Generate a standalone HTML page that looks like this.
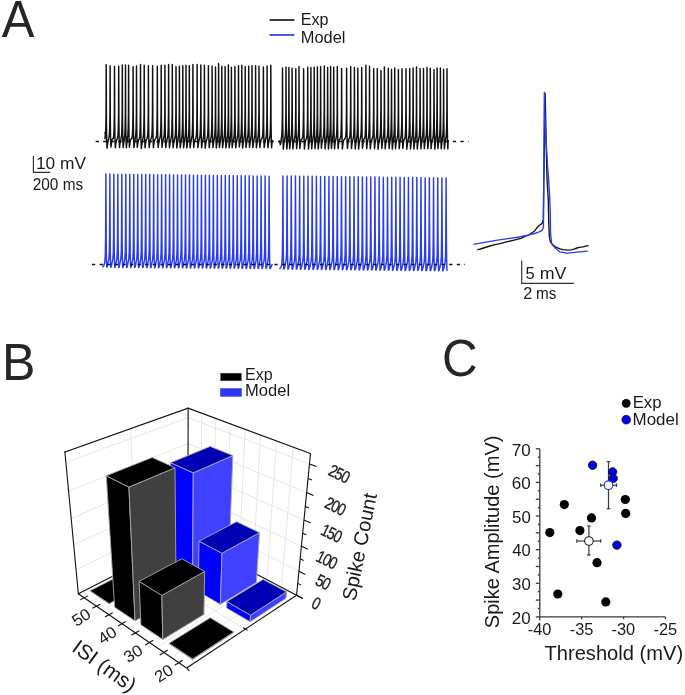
<!DOCTYPE html>
<html><head><meta charset="utf-8"><style>
html,body{margin:0;padding:0;background:#fff;}
svg{display:block;}
text{filter:grayscale(1);}
</style></head><body>
<svg width="685" height="695" viewBox="0 0 685 695">
<rect width="685" height="695" fill="#fff"/>
<text transform="translate(1.65,36.80) scale(0.9527,1)" font-size="51.37" fill="#262626" font-family="Liberation Sans, sans-serif">A</text>
<line x1="269.5" y1="20" x2="294.5" y2="20" stroke="#2a2a2a" stroke-width="1.8"/>
<line x1="269.5" y1="34.95" x2="294.5" y2="34.95" stroke="#3346ee" stroke-width="1.8"/>
<text transform="translate(300.78,24.90) scale(0.9737,1)" font-size="16.57" fill="#1a1a1a" font-family="Liberation Sans, sans-serif">Exp</text>
<text transform="translate(300.75,42.50) scale(1.0092,1)" font-size="16.28" fill="#1a1a1a" font-family="Liberation Sans, sans-serif">Model</text>
<g fill="none" stroke="#111" stroke-width="1.45" stroke-linejoin="round">
<path d="M105,131.8 L105.3,134.8 L104.95,138.79 L105.45,135.87 L105.82,128 L106.08,112 L106.2,64.6 L106.42,122 L106.7,140 L107.02,148.19 L107.6,143.57 L108.15,140.91 L108.85,137.69 L109.35,135.04 L109.72,128 L109.98,112 L110.1,65.7 L110.32,122 L110.6,140 L110.92,147.09 L111.5,142.74 L112.05,139.53 L113.25,138.4 L113.75,135.58 L114.12,128 L114.38,112 L114.5,66.2 L114.72,122 L115,140 L115.32,147.8 L115.9,143.28 L116.45,140.43 L117.45,138.16 L117.95,135.4 L118.32,128 L118.58,112 L118.7,66.2 L118.92,122 L119.2,140 L119.52,147.56 L120.1,143.1 L120.65,140.13 L121.05,138.19 L121.55,135.42 L121.92,128 L122.18,112 L122.3,64.9 L122.52,122 L122.8,140 L123.12,147.59 L123.7,143.12 L124.25,140.16 L124.25,138.25 L124.75,135.46 L125.12,128 L125.38,112 L125.5,64.9 L125.72,122 L126,140 L126.32,147.65 L126.9,143.16 L127.45,140.24 L127.35,137.82 L127.85,135.14 L128.22,128 L128.48,112 L128.6,65.3 L128.82,122 L129.1,140 L129.42,147.22 L130,142.84 L130.55,139.69 L131.85,138.24 L132.35,135.46 L132.72,128 L132.98,112 L133.1,66.6 L133.32,122 L133.6,140 L133.92,147.64 L134.5,143.16 L135.05,140.23 L135.25,138.09 L135.75,135.34 L136.12,128 L136.38,112 L136.5,66 L136.72,122 L137,140 L137.32,147.49 L137.9,143.04 L138.45,140.04 L139.25,139.1 L139.75,136.1 L140.12,128 L140.38,112 L140.5,64.4 L140.72,122 L141,140 L141.32,148.5 L141.9,143.8 L142.45,141.3 L142.95,138.35 L143.45,135.54 L143.82,128 L144.08,112 L144.2,65.3 L144.42,122 L144.7,140 L145.02,147.75 L145.6,143.24 L146.15,140.37 L147.15,138.22 L147.65,135.44 L148.02,128 L148.28,112 L148.4,65.7 L148.62,122 L148.9,140 L149.22,147.62 L149.8,143.14 L150.35,140.19 L151.35,138.23 L151.85,135.45 L152.22,128 L152.48,112 L152.6,65.7 L152.82,122 L153.1,140 L153.42,147.63 L154,143.15 L154.55,140.22 L156.05,138.14 L156.55,135.38 L156.92,128 L157.18,112 L157.3,66.2 L157.52,122 L157.8,140 L158.12,147.54 L158.7,143.08 L159.25,140.1 L159.95,138.05 L160.45,135.31 L160.82,128 L161.08,112 L161.2,65.3 L161.42,122 L161.7,140 L162.02,147.45 L162.6,143.01 L163.15,139.98 L163.65,138.21 L164.15,135.43 L164.52,128 L164.78,112 L164.9,65.3 L165.12,122 L165.4,140 L165.72,147.61 L166.3,143.13 L166.85,140.18 L167.35,138.42 L167.85,135.59 L168.22,128 L168.48,112 L168.6,64.4 L168.82,122 L169.1,140 L169.42,147.82 L170,143.29 L170.55,140.44 L171.05,138.24 L171.55,135.46 L171.92,128 L172.18,112 L172.3,64.6 L172.52,122 L172.8,140 L173.12,147.64 L173.7,143.16 L174.25,140.23 L174.75,138.53 L175.25,135.67 L175.62,128 L175.88,112 L176,66.6 L176.22,122 L176.5,140 L176.82,147.93 L177.4,143.37 L177.95,140.59 L178.15,138.25 L178.65,135.46 L179.02,128 L179.28,112 L179.4,66.2 L179.62,122 L179.9,140 L180.22,147.65 L180.8,143.16 L181.35,140.24 L181.55,138.31 L182.05,135.5 L182.42,128 L182.68,112 L182.8,65.7 L183.02,122 L183.3,140 L183.62,147.71 L184.2,143.2 L184.75,140.31 L184.75,138.67 L185.25,135.78 L185.62,128 L185.88,112 L186,65.3 L186.22,122 L186.5,140 L186.82,148.07 L187.4,143.48 L187.95,140.76 L188.05,138.43 L188.55,135.6 L188.92,128 L189.18,112 L189.3,65.7 L189.52,122 L189.8,140 L190.12,147.83 L190.7,143.3 L191.25,140.46 L191.65,138.18 L192.15,135.41 L192.52,128 L192.78,112 L192.9,64.4 L193.12,122 L193.4,140 L193.72,147.58 L194.3,143.11 L194.85,140.15 L195.85,138.26 L196.35,135.47 L196.72,128 L196.98,112 L197.1,64.4 L197.32,122 L197.6,140 L197.92,147.66 L198.5,143.17 L199.05,140.25 L199.55,138.43 L200.05,135.6 L200.42,128 L200.68,112 L200.8,64.9 L201.02,122 L201.3,140 L201.62,147.83 L202.2,143.3 L202.75,140.46 L203.15,138.76 L203.65,135.85 L204.02,128 L204.28,112 L204.4,65.3 L204.62,122 L204.9,140 L205.22,148.16 L205.8,143.55 L206.35,140.88 L207.15,138.24 L207.65,135.45 L208.02,128 L208.28,112 L208.4,65.7 L208.62,122 L208.9,140 L209.22,147.64 L209.8,143.15 L210.35,140.22 L210.85,138.24 L211.35,135.46 L211.72,128 L211.98,112 L212.1,66 L212.32,122 L212.6,140 L212.92,147.64 L213.5,143.16 L214.05,140.23 L214.25,138.54 L214.75,135.68 L215.12,128 L215.38,112 L215.5,67 L215.72,122 L216,140 L216.32,147.94 L216.9,143.38 L217.45,140.6 L217.35,138.09 L217.85,135.34 L218.22,128 L218.48,112 L218.6,63.6 L218.82,122 L219.1,140 L219.42,147.49 L220,143.04 L220.55,140.03 L220.55,138.23 L221.05,135.45 L221.42,128 L221.68,112 L221.8,66.2 L222.02,122 L222.3,140 L222.62,147.63 L223.2,143.15 L223.75,140.21 L223.85,138.51 L224.35,135.66 L224.72,128 L224.98,112 L225.1,66.6 L225.32,122 L225.6,140 L225.92,147.91 L226.5,143.36 L227.05,140.56 L227.15,138.44 L227.65,135.6 L228.02,128 L228.28,112 L228.4,64.9 L228.62,122 L228.9,140 L229.22,147.84 L229.8,143.3 L230.35,140.47 L230.15,138.32 L230.65,135.52 L231.02,128 L231.28,112 L231.4,67.3 L231.62,122 L231.9,140 L232.22,147.72 L232.8,143.22 L233.35,140.33 L233.65,138.46 L234.15,135.62 L234.52,128 L234.78,112 L234.9,66.6 L235.12,122 L235.4,140 L235.72,147.86 L236.3,143.32 L236.85,140.5 L237.25,137.62 L237.75,134.99 L238.12,128 L238.38,112 L238.5,65.7 L238.72,122 L239,140 L239.32,147.02 L239.9,142.69 L240.45,139.45 L240.55,138.55 L241.05,135.68 L241.42,128 L241.68,112 L241.8,65.3 L242.02,122 L242.3,140 L242.62,147.95 L243.2,143.38 L243.75,140.61 L243.95,138.07 L244.45,135.33 L244.82,128 L245.08,112 L245.2,66.6 L245.42,122 L245.7,140 L246.02,147.47 L246.6,143.03 L247.15,140.01 L247.45,137.9 L247.95,135.2 L248.32,128 L248.58,112 L248.7,66.2 L248.92,122 L249.2,140 L249.52,147.3 L250.1,142.9 L250.65,139.8 L250.75,138.37 L251.25,135.55 L251.62,128 L251.88,112 L252,65.7 L252.22,122 L252.5,140 L252.82,147.77 L253.4,143.25 L253.95,140.38 L254.35,138.47 L254.85,135.63 L255.22,128 L255.48,112 L255.6,65.7 L255.82,122 L256.1,140 L256.42,147.87 L257,143.33 L257.55,140.51 L257.75,138.19 L258.25,135.42 L258.62,128 L258.88,112 L259,66.2 L259.22,122 L259.5,140 L259.82,147.59 L260.4,143.12 L260.95,140.17 L262.15,138.04 L262.65,135.31 L263.02,128 L263.28,112 L263.4,67 L263.62,122 L263.9,140 L264.22,147.44 L264.8,143.01 L265.35,139.98 L265.85,138.31 L266.35,135.5 L266.72,128 L266.98,112 L267.1,66 L267.32,122 L267.6,140 L267.92,147.71 L268.5,143.2 L269.05,140.31 L269.55,138.29 L270.05,135.49 L270.42,128 L270.68,112 L270.8,65.3 L271.02,122 L271.3,140 L271.62,147.69 L272.2,140.47 L272.8,140"/>
<path d="M278.3,141.5 L279.7,141.3 L280.3,144.8 L280.9,142.5 L281.25,138.64 L281.75,135.75 L282.12,128 L282.38,112 L282.5,67.9 L282.72,122 L283,140 L283.32,149.14 L283.9,143.45 L284.45,140.72 L284.75,138.48 L285.25,135.63 L285.62,128 L285.88,112 L286,67 L286.22,122 L286.5,140 L286.82,148.98 L287.4,143.33 L287.95,140.52 L287.65,138.35 L288.15,135.53 L288.52,128 L288.78,112 L288.9,67.5 L289.12,122 L289.4,140 L289.72,148.85 L290.3,143.23 L290.85,140.36 L290.85,138.57 L291.35,135.7 L291.72,128 L291.98,112 L292.1,68.3 L292.32,122 L292.6,140 L292.92,149.07 L293.5,143.4 L294.05,140.63 L294.55,138.25 L295.05,135.46 L295.42,128 L295.68,112 L295.8,68.8 L296.02,122 L296.3,140 L296.62,148.75 L297.2,143.16 L297.75,140.24 L297.75,138.08 L298.25,135.33 L298.62,128 L298.88,112 L299,66.6 L299.22,122 L299.5,140 L299.82,148.58 L300.4,143.03 L300.95,140.02 L302.35,138.44 L302.85,135.61 L303.22,128 L303.48,112 L303.6,68.8 L303.82,122 L304.1,140 L304.42,148.94 L305,143.31 L305.55,140.48 L306.45,138.44 L306.95,135.6 L307.32,128 L307.58,112 L307.7,67.3 L307.92,122 L308.2,140 L308.52,148.94 L309.1,143.3 L309.65,140.47 L309.65,138.25 L310.15,135.46 L310.52,128 L310.78,112 L310.9,67.5 L311.12,122 L311.4,140 L311.72,148.75 L312.3,143.16 L312.85,140.24 L312.95,138.11 L313.45,135.36 L313.82,128 L314.08,112 L314.2,67.3 L314.42,122 L314.7,140 L315.02,148.61 L315.6,143.06 L316.15,140.07 L316.15,138.35 L316.65,135.54 L317.02,128 L317.28,112 L317.4,67 L317.62,122 L317.9,140 L318.22,148.85 L318.8,143.24 L319.35,140.37 L319.35,137.7 L319.85,135.05 L320.22,128 L320.48,112 L320.6,66.6 L320.82,122 L321.1,140 L321.42,148.2 L322,142.75 L322.55,139.55 L323.05,138.47 L323.55,135.62 L323.92,128 L324.18,112 L324.3,66 L324.52,122 L324.8,140 L325.12,148.97 L325.7,143.32 L326.25,140.51 L326.35,138.42 L326.85,135.59 L327.22,128 L327.48,112 L327.6,67.5 L327.82,122 L328.1,140 L328.42,148.92 L329,143.29 L329.55,140.45 L329.35,137.91 L329.85,135.21 L330.22,128 L330.48,112 L330.6,66.6 L330.82,122 L331.1,140 L331.42,148.41 L332,142.91 L332.55,139.81 L332.45,138.31 L332.95,135.51 L333.32,128 L333.58,112 L333.7,67.3 L333.92,122 L334.2,140 L334.52,148.81 L335.1,143.21 L335.65,140.32 L336.05,138.07 L336.55,135.33 L336.92,128 L337.18,112 L337.3,66.6 L337.52,122 L337.8,140 L338.12,148.57 L338.7,143.03 L339.25,140.01 L340.35,138.48 L340.85,135.64 L341.22,128 L341.48,112 L341.6,68.6 L341.82,122 L342.1,140 L342.42,148.98 L343,143.34 L343.55,140.53 L345.35,137.81 L345.85,135.13 L346.22,128 L346.48,112 L346.6,68.3 L346.82,122 L347.1,140 L347.42,148.31 L348,142.83 L348.55,139.69 L349.45,138.08 L349.95,135.34 L350.32,128 L350.58,112 L350.7,66.6 L350.92,122 L351.2,140 L351.52,148.58 L352.1,143.04 L352.65,140.03 L353.15,138.47 L353.65,135.63 L354.02,128 L354.28,112 L354.4,67.5 L354.62,122 L354.9,140 L355.22,148.97 L355.8,143.33 L356.35,140.51 L356.55,138.58 L357.05,135.71 L357.42,128 L357.68,112 L357.8,68.3 L358.02,122 L358.3,140 L358.62,149.08 L359.2,143.41 L359.75,140.65 L360.45,137.78 L360.95,135.11 L361.32,128 L361.58,112 L361.7,67.5 L361.92,122 L362.2,140 L362.52,148.28 L363.1,142.81 L363.65,139.65 L364.65,138.18 L365.15,135.41 L365.52,128 L365.78,112 L365.9,65.3 L366.12,122 L366.4,140 L366.72,148.68 L367.3,143.11 L367.85,140.15 L368.25,138.38 L368.75,135.56 L369.12,128 L369.38,112 L369.5,66.2 L369.72,122 L370,140 L370.32,148.88 L370.9,143.26 L371.45,140.4 L372.45,138.15 L372.95,135.39 L373.32,128 L373.58,112 L373.7,68.6 L373.92,122 L374.2,140 L374.52,148.65 L375.1,143.09 L375.65,140.12 L376.05,138.68 L376.55,135.79 L376.92,128 L377.18,112 L377.3,68.6 L377.52,122 L377.8,140 L378.12,149.18 L378.7,143.49 L379.25,140.78 L379.75,138.01 L380.25,135.29 L380.62,128 L380.88,112 L381,70.6 L381.22,122 L381.5,140 L381.82,148.51 L382.4,142.99 L382.95,139.94 L383.15,138.39 L383.65,135.56 L384.02,128 L384.28,112 L384.4,67 L384.62,122 L384.9,140 L385.22,148.89 L385.8,143.26 L386.35,140.41 L387.05,138.05 L387.55,135.31 L387.92,128 L388.18,112 L388.3,68.3 L388.52,122 L388.8,140 L389.12,148.55 L389.7,143.01 L390.25,139.99 L390.25,138.64 L390.75,135.75 L391.12,128 L391.38,112 L391.5,69.2 L391.72,122 L392,140 L392.32,149.14 L392.9,143.45 L393.45,140.72 L393.45,138.29 L393.95,135.5 L394.32,128 L394.58,112 L394.7,67.9 L394.92,122 L395.2,140 L395.52,148.79 L396.1,143.2 L396.65,140.29 L397.15,138.21 L397.65,135.43 L398.02,128 L398.28,112 L398.4,69.6 L398.62,122 L398.9,140 L399.22,148.71 L399.8,143.13 L400.35,140.19 L400.75,137.89 L401.25,135.19 L401.62,128 L401.88,112 L402,68.8 L402.22,122 L402.5,140 L402.82,148.39 L403.4,142.89 L403.95,139.78 L404.75,138.7 L405.25,135.8 L405.62,128 L405.88,112 L406,68.8 L406.22,122 L406.5,140 L406.82,149.2 L407.4,143.5 L407.95,140.8 L408.45,138.48 L408.95,135.64 L409.32,128 L409.58,112 L409.7,68.6 L409.92,122 L410.2,140 L410.52,148.98 L411.1,143.34 L411.65,140.53 L411.85,138.48 L412.35,135.64 L412.72,128 L412.98,112 L413.1,67.9 L413.32,122 L413.6,140 L413.92,148.98 L414.5,143.34 L415.05,140.53 L415.25,138.57 L415.75,135.7 L416.12,128 L416.38,112 L416.5,67 L416.72,122 L417,140 L417.32,149.07 L417.9,143.4 L418.45,140.64 L418.85,138.38 L419.35,135.56 L419.72,128 L419.98,112 L420.1,68.6 L420.32,122 L420.6,140 L420.92,148.88 L421.5,143.26 L422.05,140.4 L422.25,138.15 L422.75,135.38 L423.12,128 L423.38,112 L423.5,68.6 L423.72,122 L424,140 L424.32,148.65 L424.9,143.08 L425.45,140.11 L425.75,138.11 L426.25,135.36 L426.62,128 L426.88,112 L427,67.5 L427.22,122 L427.5,140 L427.82,148.61 L428.4,143.06 L428.95,140.06 L429.05,138.11 L429.55,135.36 L429.92,128 L430.18,112 L430.3,68.3 L430.52,122 L430.8,140 L431.12,148.61 L431.7,143.06 L432.25,140.06 L432.75,138.63 L433.25,135.75 L433.62,128 L433.88,112 L434,69.6 L434.22,122 L434.5,140 L434.82,149.13 L435.4,143.45 L435.95,140.71 L435.85,137.95 L436.35,135.24 L436.72,128 L436.98,112 L437.1,67.9 L437.32,122 L437.6,140 L437.92,148.45 L438.5,142.94 L439.05,139.86 L439.15,138.16 L439.65,135.39 L440.02,128 L440.28,112 L440.4,67.9 L440.62,122 L440.9,140 L441.22,148.66 L441.8,143.09 L442.35,140.12 L442.35,138.22 L442.85,135.44 L443.22,128 L443.48,112 L443.6,69.2 L443.82,122 L444.1,140 L444.42,148.72 L445,143.14 L445.55,140.2 L445.75,138.35 L446.25,135.54 L446.62,128 L446.88,112 L447,68.8 L447.22,122 L447.5,140 L447.82,148.85 L448.15,140.63 L448.5,140"/>
</g>
<line x1="95.6" y1="141.6" x2="468.5" y2="141.6" stroke="#111" stroke-width="1.5" stroke-dasharray="3.3 4.3"/>
<g fill="none" stroke="#283cf0" stroke-width="1.45" stroke-linejoin="round">
<path d="M102.3,267.3 L103.7,265.8 L104.7,263.1 L105.3,256 L105.62,236 L105.9,174 L106.18,238 L106.4,258 L106.75,267.3 L107.3,266.8 L107.88,263.6 L108.88,259 L109.33,252.1 L109.58,236 L109.88,174.05 L110.16,238 L110.38,258 L110.73,267.33 L111.28,266.83 L111.86,263.63 L112.86,259.03 L113.31,252.13 L113.56,236 L113.86,174.1 L114.14,238 L114.36,258 L114.71,267.36 L115.26,266.86 L115.84,263.66 L116.84,259.06 L117.29,252.16 L117.54,236 L117.84,174.15 L118.12,238 L118.34,258 L118.69,267.4 L119.24,266.9 L119.82,263.7 L120.82,259.1 L121.27,252.2 L121.52,236 L121.82,174.2 L122.1,238 L122.32,258 L122.67,267.43 L123.22,266.93 L123.8,263.73 L124.8,259.13 L125.25,252.23 L125.5,236 L125.8,174.26 L126.08,238 L126.3,258 L126.65,267.46 L127.2,266.96 L127.78,263.76 L128.78,259.16 L129.23,252.26 L129.48,236 L129.78,174.31 L130.06,238 L130.28,258 L130.63,267.49 L131.18,266.99 L131.76,263.79 L132.76,259.19 L133.21,252.29 L133.46,236 L133.76,174.36 L134.04,238 L134.26,258 L134.61,267.52 L135.16,267.02 L135.74,263.82 L136.74,259.22 L137.19,252.32 L137.44,236 L137.74,174.41 L138.02,238 L138.24,258 L138.59,267.55 L139.14,267.05 L139.72,263.85 L140.72,259.25 L141.17,252.35 L141.42,236 L141.72,174.46 L142,238 L142.22,258 L142.57,267.59 L143.12,267.09 L143.7,263.89 L144.7,259.29 L145.15,252.39 L145.4,236 L145.7,174.51 L145.98,238 L146.2,258 L146.55,267.62 L147.1,267.12 L147.69,263.92 L148.69,259.32 L149.14,252.42 L149.39,236 L149.69,174.56 L149.97,238 L150.19,258 L150.54,267.65 L151.09,267.15 L151.67,263.95 L152.67,259.35 L153.12,252.45 L153.37,236 L153.67,174.61 L153.95,238 L154.17,258 L154.52,267.68 L155.07,267.18 L155.65,263.98 L156.65,259.38 L157.1,252.48 L157.35,236 L157.65,174.67 L157.93,238 L158.15,258 L158.5,267.71 L159.05,267.21 L159.63,264.01 L160.63,259.41 L161.08,252.51 L161.33,236 L161.63,174.72 L161.91,238 L162.13,258 L162.48,267.74 L163.03,267.24 L163.61,264.04 L164.61,259.44 L165.06,252.54 L165.31,236 L165.61,174.77 L165.89,238 L166.11,258 L166.46,267.78 L167.01,267.28 L167.59,264.08 L168.59,259.48 L169.04,252.58 L169.29,236 L169.59,174.82 L169.87,238 L170.09,258 L170.44,267.81 L170.99,267.31 L171.57,264.11 L172.57,259.51 L173.02,252.61 L173.27,236 L173.57,174.87 L173.85,238 L174.07,258 L174.42,267.84 L174.97,267.34 L175.55,264.14 L176.55,259.54 L177,252.64 L177.25,236 L177.55,174.92 L177.83,238 L178.05,258 L178.4,267.87 L178.95,267.37 L179.53,264.17 L180.53,259.57 L180.98,252.67 L181.23,236 L181.53,174.97 L181.81,238 L182.03,258 L182.38,267.9 L182.93,267.4 L183.51,264.2 L184.51,259.6 L184.96,252.7 L185.21,236 L185.51,175.02 L185.79,238 L186.01,258 L186.36,267.93 L186.91,267.43 L187.49,264.23 L188.49,259.63 L188.94,252.73 L189.19,236 L189.49,175.08 L189.77,238 L189.99,258 L190.34,267.97 L190.89,267.47 L191.47,264.27 L192.47,259.67 L192.92,252.77 L193.17,236 L193.47,175.13 L193.75,238 L193.97,258 L194.32,268 L194.87,267.5 L195.45,264.3 L196.45,259.7 L196.9,252.8 L197.15,236 L197.45,175.18 L197.73,238 L197.95,258 L198.3,268.03 L198.85,267.53 L199.43,264.33 L200.43,259.73 L200.88,252.83 L201.13,236 L201.43,175.23 L201.71,238 L201.93,258 L202.28,268.06 L202.83,267.56 L203.41,264.36 L204.41,259.76 L204.86,252.86 L205.11,236 L205.41,175.28 L205.69,238 L205.91,258 L206.26,268.09 L206.81,267.59 L207.39,264.39 L208.39,259.79 L208.84,252.89 L209.09,236 L209.39,175.33 L209.67,238 L209.89,258 L210.24,268.12 L210.79,267.62 L211.37,264.42 L212.37,259.82 L212.82,252.92 L213.07,236 L213.37,175.38 L213.65,238 L213.87,258 L214.22,268.16 L214.77,267.66 L215.35,264.46 L216.35,259.86 L216.8,252.96 L217.05,236 L217.35,175.43 L217.63,238 L217.85,258 L218.2,268.19 L218.75,267.69 L219.33,264.49 L220.33,259.89 L220.78,252.99 L221.03,236 L221.33,175.49 L221.61,238 L221.83,258 L222.18,268.22 L222.73,267.72 L223.31,264.52 L224.31,259.92 L224.76,253.02 L225.01,236 L225.31,175.54 L225.59,238 L225.81,258 L226.16,268.25 L226.71,267.75 L227.3,264.55 L228.3,259.95 L228.75,253.05 L229,236 L229.3,175.59 L229.58,238 L229.8,258 L230.15,268.28 L230.7,267.78 L231.28,264.58 L232.28,259.98 L232.73,253.08 L232.98,236 L233.28,175.64 L233.56,238 L233.78,258 L234.13,268.31 L234.68,267.81 L235.26,264.61 L236.26,260.01 L236.71,253.11 L236.96,236 L237.26,175.69 L237.54,238 L237.76,258 L238.11,268.35 L238.66,267.85 L239.24,264.65 L240.24,260.05 L240.69,253.15 L240.94,236 L241.24,175.74 L241.52,238 L241.74,258 L242.09,268.38 L242.64,267.88 L243.22,264.68 L244.22,260.08 L244.67,253.18 L244.92,236 L245.22,175.79 L245.5,238 L245.72,258 L246.07,268.41 L246.62,267.91 L247.2,264.71 L248.2,260.11 L248.65,253.21 L248.9,236 L249.2,175.84 L249.48,238 L249.7,258 L250.05,268.44 L250.6,267.94 L251.18,264.74 L252.18,260.14 L252.63,253.24 L252.88,236 L253.18,175.9 L253.46,238 L253.68,258 L254.03,268.47 L254.58,267.97 L255.16,264.77 L256.16,260.17 L256.61,253.27 L256.86,236 L257.16,175.95 L257.44,238 L257.66,258 L258.01,268.5 L258.56,268 L259.14,264.8 L260.14,260.2 L260.59,253.3 L260.84,236 L261.14,176 L261.42,238 L261.64,258 L261.99,268.54 L262.54,268.04 L263.12,264.84 L264.12,260.24 L264.57,253.34 L264.82,236 L265.12,176.05 L265.4,238 L265.62,258 L265.97,268.57 L266.52,268.07 L267.1,264.87 L268.1,260.27 L268.55,253.37 L268.8,236 L269.1,176.1 L269.38,238 L269.6,258 L269.95,268.6 L270.6,268.1 L272.3,263.9"/>
<path d="M279.5,269.1 L280.7,267.6 L281.7,264.9 L282.3,256 L282.62,236 L282.9,175.9 L283.18,238 L283.4,258 L283.75,269.1 L284.3,268.6 L285.08,265.4 L286.08,260.8 L286.53,253.9 L286.78,236 L287.08,175.95 L287.36,238 L287.58,258 L287.93,269.15 L288.48,268.65 L289.27,265.45 L290.27,260.85 L290.72,253.95 L290.97,236 L291.27,176 L291.55,238 L291.77,258 L292.12,269.19 L292.67,268.69 L293.45,265.49 L294.45,260.89 L294.9,253.99 L295.15,236 L295.45,176.05 L295.73,238 L295.95,258 L296.3,269.24 L296.85,268.74 L297.64,265.54 L298.64,260.94 L299.09,254.04 L299.34,236 L299.64,176.11 L299.92,238 L300.14,258 L300.49,269.28 L301.04,268.78 L301.82,265.58 L302.82,260.98 L303.27,254.08 L303.52,236 L303.82,176.16 L304.1,238 L304.32,258 L304.67,269.33 L305.22,268.83 L306.01,265.63 L307.01,261.03 L307.46,254.13 L307.71,236 L308.01,176.21 L308.29,238 L308.51,258 L308.86,269.38 L309.41,268.88 L310.19,265.68 L311.19,261.08 L311.64,254.18 L311.89,236 L312.19,176.26 L312.47,238 L312.69,258 L313.04,269.42 L313.59,268.92 L314.38,265.72 L315.38,261.12 L315.83,254.22 L316.08,236 L316.38,176.31 L316.66,238 L316.88,258 L317.23,269.47 L317.78,268.97 L318.56,265.77 L319.56,261.17 L320.01,254.27 L320.26,236 L320.56,176.36 L320.84,238 L321.06,258 L321.41,269.52 L321.96,269.02 L322.75,265.82 L323.75,261.22 L324.2,254.32 L324.45,236 L324.75,176.41 L325.03,238 L325.25,258 L325.6,269.56 L326.15,269.06 L326.93,265.86 L327.93,261.26 L328.38,254.36 L328.63,236 L328.93,176.46 L329.21,238 L329.43,258 L329.78,269.61 L330.33,269.11 L331.12,265.91 L332.12,261.31 L332.57,254.41 L332.82,236 L333.12,176.52 L333.4,238 L333.62,258 L333.97,269.65 L334.52,269.15 L335.3,265.95 L336.3,261.35 L336.75,254.45 L337,236 L337.3,176.57 L337.58,238 L337.8,258 L338.15,269.7 L338.7,269.2 L339.48,266 L340.48,261.4 L340.93,254.5 L341.18,236 L341.48,176.62 L341.76,238 L341.98,258 L342.33,269.75 L342.88,269.25 L343.67,266.05 L344.67,261.45 L345.12,254.55 L345.37,236 L345.67,176.67 L345.95,238 L346.17,258 L346.52,269.79 L347.07,269.29 L347.85,266.09 L348.85,261.49 L349.3,254.59 L349.55,236 L349.85,176.72 L350.13,238 L350.35,258 L350.7,269.84 L351.25,269.34 L352.04,266.14 L353.04,261.54 L353.49,254.64 L353.74,236 L354.04,176.77 L354.32,238 L354.54,258 L354.89,269.88 L355.44,269.38 L356.22,266.18 L357.22,261.58 L357.67,254.68 L357.92,236 L358.22,176.82 L358.5,238 L358.72,258 L359.07,269.93 L359.62,269.43 L360.41,266.23 L361.41,261.63 L361.86,254.73 L362.11,236 L362.41,176.87 L362.69,238 L362.91,258 L363.26,269.98 L363.81,269.48 L364.59,266.28 L365.59,261.68 L366.04,254.78 L366.29,236 L366.59,176.93 L366.87,238 L367.09,258 L367.44,270.02 L367.99,269.52 L368.78,266.32 L369.78,261.72 L370.23,254.82 L370.48,236 L370.78,176.98 L371.06,238 L371.28,258 L371.63,270.07 L372.18,269.57 L372.96,266.37 L373.96,261.77 L374.41,254.87 L374.66,236 L374.96,177.03 L375.24,238 L375.46,258 L375.81,270.12 L376.36,269.62 L377.15,266.42 L378.15,261.82 L378.6,254.92 L378.85,236 L379.15,177.08 L379.43,238 L379.65,258 L380,270.16 L380.55,269.66 L381.33,266.46 L382.33,261.86 L382.78,254.96 L383.03,236 L383.33,177.13 L383.61,238 L383.83,258 L384.18,270.21 L384.73,269.71 L385.52,266.51 L386.52,261.91 L386.97,255.01 L387.22,236 L387.52,177.18 L387.8,238 L388.02,258 L388.37,270.25 L388.92,269.75 L389.7,266.55 L390.7,261.95 L391.15,255.05 L391.4,236 L391.7,177.23 L391.98,238 L392.2,258 L392.55,270.3 L393.1,269.8 L393.88,266.6 L394.88,262 L395.33,255.1 L395.58,236 L395.88,177.28 L396.16,238 L396.38,258 L396.73,270.35 L397.28,269.85 L398.07,266.65 L399.07,262.05 L399.52,255.15 L399.77,236 L400.07,177.34 L400.35,238 L400.57,258 L400.92,270.39 L401.47,269.89 L402.25,266.69 L403.25,262.09 L403.7,255.19 L403.95,236 L404.25,177.39 L404.53,238 L404.75,258 L405.1,270.44 L405.65,269.94 L406.44,266.74 L407.44,262.14 L407.89,255.24 L408.14,236 L408.44,177.44 L408.72,238 L408.94,258 L409.29,270.48 L409.84,269.98 L410.62,266.78 L411.62,262.18 L412.07,255.28 L412.32,236 L412.62,177.49 L412.9,238 L413.12,258 L413.47,270.53 L414.02,270.03 L414.81,266.83 L415.81,262.23 L416.26,255.33 L416.51,236 L416.81,177.54 L417.09,238 L417.31,258 L417.66,270.58 L418.21,270.08 L418.99,266.88 L419.99,262.28 L420.44,255.38 L420.69,236 L420.99,177.59 L421.27,238 L421.49,258 L421.84,270.62 L422.39,270.12 L423.18,266.92 L424.18,262.32 L424.63,255.42 L424.88,236 L425.18,177.64 L425.46,238 L425.68,258 L426.03,270.67 L426.58,270.17 L427.36,266.97 L428.36,262.37 L428.81,255.47 L429.06,236 L429.36,177.69 L429.64,238 L429.86,258 L430.21,270.72 L430.76,270.22 L431.55,267.02 L432.55,262.42 L433,255.52 L433.25,236 L433.55,177.75 L433.83,238 L434.05,258 L434.4,270.76 L434.95,270.26 L435.73,267.06 L436.73,262.46 L437.18,255.56 L437.43,236 L437.73,177.8 L438.01,238 L438.23,258 L438.58,270.81 L439.13,270.31 L439.92,267.11 L440.92,262.51 L441.37,255.61 L441.62,236 L441.92,177.85 L442.2,238 L442.42,258 L442.77,270.85 L443.32,270.35 L444.1,267.15 L445.1,262.55 L445.55,255.65 L445.8,236 L446.1,177.9 L446.38,238 L446.6,258 L446.95,270.9"/>
</g>
<line x1="92" y1="264.6" x2="465" y2="264.6" stroke="#111" stroke-width="1.5" stroke-dasharray="3.3 4.3"/>
<path d="M33.4,156.1 V172.3 H50.4" fill="none" stroke="#333" stroke-width="1.2"/>
<text transform="translate(35.98,168.90) scale(1.0001,1)" font-size="17.30" fill="#1a1a1a" font-family="Liberation Sans, sans-serif">10 mV</text>
<text transform="translate(32.73,189.50) scale(0.9257,1)" font-size="16.61" fill="#1a1a1a" font-family="Liberation Sans, sans-serif">200 ms</text>
<polyline points="477.3,249.8 482,248.5 488.2,246.5 495,244.6 500,243.6 506.5,241.9 512,240.6 516,239.6 521.1,238.3 525,236.5 529,234.8 532,232.8 534.3,231.2 536.9,227.8 539.5,225.2 542.1,223.4 543.3,220 543.5,200 543.9,175 544.6,130 545.1,93.3 545.5,110 546.3,150 547.1,180 548.3,200 548.7,220 549.3,236 550.3,241.6 552.4,244.6 555.9,247.2 560,248.9 563,249.6 568.5,250.1 571,249.8 574,249.2 577,248 579.5,247.4 583,246.8 585.5,246.2 588.6,245.6" fill="none" stroke="#111" stroke-width="1.35" stroke-linejoin="round"/>
<polyline points="473.3,244.3 497.4,240.1 519.3,237 530.2,234.6 534.5,233.5 538.6,232.1 542.1,230.3 543.4,227.8 543.7,200 543.8,175 544,130 544.35,92.4 544.75,110 546,140 547.5,165 548.7,180 549.8,200 550.3,215 550.5,232 551.6,243.3 553.5,246.3 555.9,248.4 560,251.9 566.7,253.2 587.7,251.1" fill="none" stroke="#283cf0" stroke-width="1.35" stroke-linejoin="round"/>
<path d="M521.7,260.6 V283.3 H573.9" fill="none" stroke="#333" stroke-width="1.2"/>
<text transform="translate(525.43,278.90) scale(0.9882,1)" font-size="16.86" fill="#1a1a1a" font-family="Liberation Sans, sans-serif">5</text>
<text transform="translate(539.82,278.90) scale(1.0541,1)" font-size="16.86" fill="#1a1a1a" font-family="Liberation Sans, sans-serif">mV</text>
<text transform="translate(523.18,299.40) scale(0.9949,1)" font-size="16.33" fill="#1a1a1a" font-family="Liberation Sans, sans-serif">2</text>
<text transform="translate(536.09,299.40) scale(0.9358,1)" font-size="16.33" fill="#1a1a1a" font-family="Liberation Sans, sans-serif">ms</text>
<text transform="translate(2.08,379.50) scale(0.9805,1)" font-size="51.16" fill="#262626" font-family="Liberation Sans, sans-serif">B</text>
<rect x="220.6" y="373.2" width="20.8" height="7.6" fill="#000" stroke="#555" stroke-width="0.5"/>
<rect x="220.6" y="388.6" width="20.8" height="7.7" fill="#2c36f2" stroke="#2230d0" stroke-width="0.5"/>
<text transform="translate(245.09,379.70) scale(0.9834,1)" font-size="16.28" fill="#1a1a1a" font-family="Liberation Sans, sans-serif">Exp</text>
<text transform="translate(245.04,396.20) scale(0.9985,1)" font-size="16.57" fill="#1a1a1a" font-family="Liberation Sans, sans-serif">Model</text>
<g stroke="#e3e3e3" stroke-width="0.9">
<line x1="76.05" y1="569.71" x2="187.95" y2="515.67" />
<line x1="187.95" y1="515.67" x2="298.94" y2="571.23" />
<line x1="73.67" y1="544.65" x2="187.99" y2="492.55" />
<line x1="187.99" y1="492.55" x2="301.4" y2="546.15" />
<line x1="71.19" y1="518.48" x2="188.04" y2="468.52" />
<line x1="188.04" y1="468.52" x2="303.97" y2="519.95" />
<line x1="68.59" y1="491.13" x2="188.08" y2="443.54" />
<line x1="188.08" y1="443.54" x2="306.66" y2="492.57" />
<line x1="65.88" y1="462.5" x2="188.13" y2="417.54" />
<line x1="188.13" y1="417.54" x2="309.48" y2="463.91" />
<line x1="136.43" y1="564.15" x2="130.68" y2="428.64" />
<line x1="200.09" y1="544.37" x2="201.69" y2="413.16" />
<line x1="212.64" y1="550.99" x2="215.69" y2="418.35" />
<line x1="225.57" y1="557.81" x2="230.16" y2="423.72" />
<line x1="238.9" y1="564.84" x2="245.12" y2="429.26" />
<line x1="252.64" y1="572.09" x2="260.61" y2="435.01" />
<line x1="266.82" y1="579.57" x2="276.65" y2="440.95" />
<line x1="281.46" y1="587.29" x2="293.27" y2="447.11" />
<line x1="90.29" y1="601.92" x2="200.09" y2="544.37" />
<line x1="102.66" y1="610.4" x2="212.64" y2="550.99" />
<line x1="115.44" y1="619.16" x2="225.57" y2="557.81" />
<line x1="128.68" y1="628.23" x2="238.9" y2="564.84" />
<line x1="142.39" y1="637.63" x2="252.64" y2="572.09" />
<line x1="156.59" y1="647.36" x2="266.82" y2="579.57" />
<line x1="171.32" y1="657.46" x2="281.46" y2="587.29" />
<line x1="136.43" y1="564.15" x2="245.38" y2="629.09" />
</g>
<g stroke="#111" stroke-width="1.1" fill="none" stroke-linecap="square">
<polyline points="64.89,452.11 188.15,408.14 310.5,453.5"/>
<line x1="78.33" y1="593.73" x2="64.89" y2="452.11" />
<line x1="187.9" y1="537.94" x2="188.15" y2="408.14" />
<line x1="78.33" y1="593.73" x2="187.9" y2="537.94" />
<line x1="187.9" y1="537.94" x2="296.57" y2="595.26" />
</g>
<polygon points="147.12,561.54 166.46,572.85 166.46,572.84 147.12,561.54" fill="#0000ff" stroke="#a8a8a8" stroke-width="0.9" stroke-linejoin="round"/>
<polygon points="166.46,572.85 202.56,553.47 202.56,553.47 166.46,572.84" fill="#4040ff" stroke="#a8a8a8" stroke-width="0.9" stroke-linejoin="round"/>
<polygon points="147.12,561.54 166.46,572.84 202.56,553.47 183.18,543.06" fill="#0000b4" stroke="#a8a8a8" stroke-width="0.9" stroke-linejoin="round"/>
<polygon points="90.06,590.78 109.18,603.59 109.18,603.58 90.06,590.77" fill="#000000" stroke="#a8a8a8" stroke-width="0.9" stroke-linejoin="round"/>
<polygon points="109.18,603.59 150.07,581.64 150.07,581.64 109.18,603.58" fill="#404040" stroke="#a8a8a8" stroke-width="0.9" stroke-linejoin="round"/>
<polygon points="90.06,590.77 109.18,603.58 150.07,581.64 130.78,569.91" fill="#000000" stroke="#a8a8a8" stroke-width="0.9" stroke-linejoin="round"/>
<polygon points="171.96,576.06 192.55,588.1 193.25,472.82 170.61,462.72" fill="#0000ff" stroke="#a8a8a8" stroke-width="0.9" stroke-linejoin="round"/>
<polygon points="192.55,588.1 228.66,567.48 232.82,455.59 193.25,472.82" fill="#4040ff" stroke="#a8a8a8" stroke-width="0.9" stroke-linejoin="round"/>
<polygon points="170.61,462.72 193.25,472.82 232.82,455.59 210.19,446.4" fill="#0000b4" stroke="#a8a8a8" stroke-width="0.9" stroke-linejoin="round"/>
<polygon points="114.63,607.24 135.06,620.94 128.93,487.12 106.26,475.75" fill="#000000" stroke="#a8a8a8" stroke-width="0.9" stroke-linejoin="round"/>
<polygon points="135.06,620.94 176.12,597.49 175.03,467.74 128.93,487.12" fill="#404040" stroke="#a8a8a8" stroke-width="0.9" stroke-linejoin="round"/>
<polygon points="106.26,475.75 128.93,487.12 175.03,467.74 152.19,457.47" fill="#000000" stroke="#a8a8a8" stroke-width="0.9" stroke-linejoin="round"/>
<polygon points="198.42,591.53 220.39,604.38 221.97,553.26 198.99,541.21" fill="#0000ff" stroke="#a8a8a8" stroke-width="0.9" stroke-linejoin="round"/>
<polygon points="220.39,604.38 256.42,582.38 259.51,532.65 221.97,553.26" fill="#4040ff" stroke="#a8a8a8" stroke-width="0.9" stroke-linejoin="round"/>
<polygon points="198.99,541.21 221.97,553.26 259.51,532.65 236.59,521.66" fill="#0000b4" stroke="#a8a8a8" stroke-width="0.9" stroke-linejoin="round"/>
<polygon points="140.9,624.85 162.8,639.54 161.87,595.38 139.13,581.37" fill="#000000" stroke="#a8a8a8" stroke-width="0.9" stroke-linejoin="round"/>
<polygon points="162.8,639.54 203.96,614.41 204.67,571.44 161.87,595.38" fill="#404040" stroke="#a8a8a8" stroke-width="0.9" stroke-linejoin="round"/>
<polygon points="139.13,581.37 161.87,595.38 204.67,571.44 181.85,558.73" fill="#000000" stroke="#a8a8a8" stroke-width="0.9" stroke-linejoin="round"/>
<polygon points="226.65,608.04 250.15,621.78 250.53,615.2 226.89,601.56" fill="#0000ff" stroke="#a8a8a8" stroke-width="0.9" stroke-linejoin="round"/>
<polygon points="250.15,621.78 286.02,598.26 286.59,591.85 250.53,615.2" fill="#4040ff" stroke="#a8a8a8" stroke-width="0.9" stroke-linejoin="round"/>
<polygon points="226.89,601.56 250.53,615.2 286.59,591.85 263.09,579.41" fill="#0000b4" stroke="#a8a8a8" stroke-width="0.9" stroke-linejoin="round"/>
<polygon points="169.06,643.73 192.6,659.51 192.6,659.01 169.06,643.24" fill="#000000" stroke="#a8a8a8" stroke-width="0.9" stroke-linejoin="round"/>
<polygon points="192.6,659.51 233.76,632.53 233.78,632.04 192.6,659.01" fill="#404040" stroke="#a8a8a8" stroke-width="0.9" stroke-linejoin="round"/>
<polygon points="169.06,643.24 192.6,659.01 233.78,632.04 210.24,617.74" fill="#000000" stroke="#a8a8a8" stroke-width="0.9" stroke-linejoin="round"/>
<g stroke="#111" stroke-width="1.1" fill="none">
<line x1="78.33" y1="593.73" x2="186.61" y2="667.94" />
<line x1="186.61" y1="667.94" x2="296.57" y2="595.26" />
<line x1="296.57" y1="595.26" x2="310.5" y2="453.5" />
<line x1="80.22" y1="599.88" x2="87.97" y2="595.88" />
<line x1="92.36" y1="608.28" x2="100.14" y2="604.15" />
<line x1="104.92" y1="616.98" x2="112.73" y2="612.7" />
<line x1="117.92" y1="625.97" x2="125.75" y2="621.54" />
<line x1="131.37" y1="635.29" x2="139.23" y2="630.7" />
<line x1="145.32" y1="644.94" x2="153.19" y2="640.18" />
<line x1="159.77" y1="654.94" x2="167.66" y2="650.01" />
<line x1="174.77" y1="665.32" x2="182.66" y2="660.2" />
<line x1="245.38" y1="629.09" x2="245.38" y2="629.09" />
<line x1="243.21" y1="627.8" x2="247.56" y2="630.39" />
<line x1="186.61" y1="667.94" x2="189.51" y2="670.84"/>
<line x1="296.57" y1="595.26" x2="302.76" y2="598.52" />
<line x1="296.57" y1="595.26" x2="302.76" y2="598.52" />
<line x1="297.74" y1="583.37" x2="301.17" y2="585.13" />
<line x1="298.94" y1="571.23" x2="305.27" y2="574.4" />
<line x1="300.15" y1="558.82" x2="303.67" y2="560.53" />
<line x1="301.4" y1="546.15" x2="307.89" y2="549.21" />
<line x1="302.67" y1="533.19" x2="306.27" y2="534.84" />
<line x1="303.97" y1="519.95" x2="310.63" y2="522.9" />
<line x1="305.3" y1="506.41" x2="309" y2="508" />
<line x1="306.66" y1="492.57" x2="313.49" y2="495.39" />
<line x1="308.05" y1="478.4" x2="311.85" y2="479.91" />
<line x1="309.48" y1="463.91" x2="316.49" y2="466.58" />
</g>
<text transform="matrix(0.836 0.408 -0.504 1.034 315.8 603)" font-size="15" letter-spacing="-1.1" text-anchor="middle" dominant-baseline="central" fill="#1a1a1a" stroke="#1a1a1a" stroke-width="0.25" font-family="Liberation Sans, sans-serif">0</text>
<text transform="matrix(0.836 0.408 -0.504 1.034 323 581.7)" font-size="15" letter-spacing="-1.1" text-anchor="middle" dominant-baseline="central" fill="#1a1a1a" stroke="#1a1a1a" stroke-width="0.25" font-family="Liberation Sans, sans-serif">50</text>
<text transform="matrix(0.836 0.408 -0.504 1.034 326.6 559.5)" font-size="15" letter-spacing="-1.1" text-anchor="middle" dominant-baseline="central" fill="#1a1a1a" stroke="#1a1a1a" stroke-width="0.25" font-family="Liberation Sans, sans-serif">100</text>
<text transform="matrix(0.836 0.408 -0.504 1.034 331.3 533)" font-size="15" letter-spacing="-1.1" text-anchor="middle" dominant-baseline="central" fill="#1a1a1a" stroke="#1a1a1a" stroke-width="0.25" font-family="Liberation Sans, sans-serif">150</text>
<text transform="matrix(0.836 0.408 -0.504 1.034 335.2 506)" font-size="15" letter-spacing="-1.1" text-anchor="middle" dominant-baseline="central" fill="#1a1a1a" stroke="#1a1a1a" stroke-width="0.25" font-family="Liberation Sans, sans-serif">200</text>
<text transform="matrix(0.836 0.408 -0.504 1.034 339 473.6)" font-size="15" letter-spacing="-1.1" text-anchor="middle" dominant-baseline="central" fill="#1a1a1a" stroke="#1a1a1a" stroke-width="0.25" font-family="Liberation Sans, sans-serif">250</text>
<text transform="translate(359.4,546.6) rotate(-78.5)" font-size="20" text-anchor="middle" dominant-baseline="central" fill="#1a1a1a" font-family="Liberation Sans, sans-serif">Spike Count</text>
<text transform="translate(81.4,617.4) rotate(-33) scale(1.03,1)" font-size="16.3" text-anchor="middle" dominant-baseline="central" fill="#1a1a1a" font-family="Liberation Sans, sans-serif">50</text>
<text transform="translate(107.3,635.4) rotate(-33) scale(1.03,1)" font-size="16.3" text-anchor="middle" dominant-baseline="central" fill="#1a1a1a" font-family="Liberation Sans, sans-serif">40</text>
<text transform="translate(133.2,653.6) rotate(-33) scale(1.03,1)" font-size="16.3" text-anchor="middle" dominant-baseline="central" fill="#1a1a1a" font-family="Liberation Sans, sans-serif">30</text>
<text transform="translate(163.8,673.4) rotate(-33) scale(1.03,1)" font-size="16.3" text-anchor="middle" dominant-baseline="central" fill="#1a1a1a" font-family="Liberation Sans, sans-serif">20</text>
<text transform="translate(104.7,665.6) rotate(36)" font-size="20.8" text-anchor="middle" dominant-baseline="central" fill="#1a1a1a" font-family="Liberation Sans, sans-serif">ISI (ms)</text>
<text transform="translate(442.00,376.20) scale(0.9582,1)" font-size="51.41" fill="#262626" font-family="Liberation Sans, sans-serif">C</text>
<circle cx="626.2" cy="403.3" r="4.4" fill="#000"/>
<circle cx="626.2" cy="419.7" r="4.4" fill="#0000e0" stroke="#000040" stroke-width="0.6"/>
<text transform="translate(632.63,408.20) scale(1.0295,1)" font-size="16.28" fill="#1a1a1a" font-family="Liberation Sans, sans-serif">Exp</text>
<text transform="translate(632.61,425.30) scale(1.0131,1)" font-size="16.72" fill="#1a1a1a" font-family="Liberation Sans, sans-serif">Model</text>
<g stroke="#3a3a3a" stroke-width="1.3" fill="none">
<path d="M539.8,448.8 V616.9 H665.5"/>
<line x1="535.8" y1="616.9" x2="539.8" y2="616.9"/>
<line x1="537.8" y1="608.5" x2="539.8" y2="608.5"/>
<line x1="535.8" y1="600.09" x2="539.8" y2="600.09"/>
<line x1="537.8" y1="591.68" x2="539.8" y2="591.68"/>
<line x1="535.8" y1="583.28" x2="539.8" y2="583.28"/>
<line x1="537.8" y1="574.88" x2="539.8" y2="574.88"/>
<line x1="535.8" y1="566.47" x2="539.8" y2="566.47"/>
<line x1="537.8" y1="558.06" x2="539.8" y2="558.06"/>
<line x1="535.8" y1="549.66" x2="539.8" y2="549.66"/>
<line x1="537.8" y1="541.25" x2="539.8" y2="541.25"/>
<line x1="535.8" y1="532.85" x2="539.8" y2="532.85"/>
<line x1="537.8" y1="524.44" x2="539.8" y2="524.44"/>
<line x1="535.8" y1="516.04" x2="539.8" y2="516.04"/>
<line x1="537.8" y1="507.63" x2="539.8" y2="507.63"/>
<line x1="535.8" y1="499.23" x2="539.8" y2="499.23"/>
<line x1="537.8" y1="490.82" x2="539.8" y2="490.82"/>
<line x1="535.8" y1="482.42" x2="539.8" y2="482.42"/>
<line x1="537.8" y1="474.01" x2="539.8" y2="474.01"/>
<line x1="535.8" y1="465.61" x2="539.8" y2="465.61"/>
<line x1="537.8" y1="457.21" x2="539.8" y2="457.21"/>
<line x1="535.8" y1="448.8" x2="539.8" y2="448.8"/>
<line x1="539.8" y1="616.9" x2="539.8" y2="620.3"/>
<line x1="581.7" y1="616.9" x2="581.7" y2="619.2"/>
<line x1="623.6" y1="616.9" x2="623.6" y2="619.2"/>
<line x1="665.5" y1="616.9" x2="665.5" y2="619.2"/>
</g>
<text transform="translate(511.84,623.70) scale(0.9775,1)" font-size="17.40" fill="#1a1a1a" font-family="Liberation Sans, sans-serif">20</text>
<text transform="translate(512.06,590.08) scale(0.9660,1)" font-size="17.40" fill="#1a1a1a" font-family="Liberation Sans, sans-serif">30</text>
<text transform="translate(512.32,556.46) scale(0.9521,1)" font-size="17.40" fill="#1a1a1a" font-family="Liberation Sans, sans-serif">40</text>
<text transform="translate(512.03,522.84) scale(0.9678,1)" font-size="17.40" fill="#1a1a1a" font-family="Liberation Sans, sans-serif">50</text>
<text transform="translate(511.84,489.22) scale(0.9780,1)" font-size="17.40" fill="#1a1a1a" font-family="Liberation Sans, sans-serif">60</text>
<text transform="translate(511.83,455.60) scale(0.9785,1)" font-size="17.40" fill="#1a1a1a" font-family="Liberation Sans, sans-serif">70</text>
<text transform="translate(527.77,634.50) scale(1.0490,1)" font-size="15.61" fill="#1a1a1a" font-family="Liberation Sans, sans-serif">-40</text>
<text transform="translate(569.67,634.50) scale(1.0512,1)" font-size="15.61" fill="#1a1a1a" font-family="Liberation Sans, sans-serif">-35</text>
<text transform="translate(611.57,634.50) scale(1.0490,1)" font-size="15.61" fill="#1a1a1a" font-family="Liberation Sans, sans-serif">-30</text>
<text transform="translate(653.47,634.50) scale(1.0512,1)" font-size="15.61" fill="#1a1a1a" font-family="Liberation Sans, sans-serif">-25</text>
<text transform="translate(544.45,659.80) scale(0.9551,1)" font-size="21.08" fill="#1a1a1a" font-family="Liberation Sans, sans-serif">Threshold (mV)</text>
<text transform="translate(499.20,627.30) rotate(-90) scale(0.9578,1) translate(-0.95,0)" font-size="20.93" fill="#1a1a1a" font-family="Liberation Sans, sans-serif">Spike Amplitude (mV)</text>
<g stroke="#3a3a3a" stroke-width="1.2">
<line x1="608.5" y1="461.7" x2="608.5" y2="508.7"/><line x1="606.7" y1="461.7" x2="610.3" y2="461.7"/><line x1="606.7" y1="508.7" x2="610.3" y2="508.7"/><line x1="600.7" y1="485.2" x2="616.5" y2="485.2"/><line x1="600.7" y1="483.4" x2="600.7" y2="487.0"/><line x1="616.5" y1="483.4" x2="616.5" y2="487.0"/>
<line x1="588.9" y1="526" x2="588.9" y2="555"/><line x1="587.1" y1="526" x2="590.6999999999999" y2="526"/><line x1="587.1" y1="555" x2="590.6999999999999" y2="555"/><line x1="576.8" y1="541" x2="600.7" y2="541"/><line x1="576.8" y1="539.2" x2="576.8" y2="542.8"/><line x1="600.7" y1="539.2" x2="600.7" y2="542.8"/>
</g>
<circle cx="625.3" cy="499.5" r="4.6" fill="#000"/>
<circle cx="564.3" cy="504.6" r="4.6" fill="#000"/>
<circle cx="625.7" cy="513.4" r="4.6" fill="#000"/>
<circle cx="591.5" cy="517.9" r="4.6" fill="#000"/>
<circle cx="549.8" cy="532.6" r="4.6" fill="#000"/>
<circle cx="579.9" cy="530.6" r="4.6" fill="#000"/>
<circle cx="597.0" cy="562.7" r="4.6" fill="#000"/>
<circle cx="557.8" cy="594" r="4.6" fill="#000"/>
<circle cx="605.8" cy="601.9" r="4.6" fill="#000"/>
<circle cx="616.9" cy="545.1" r="4.2" fill="#0000e8" stroke="#111" stroke-width="0.9"/>
<circle cx="613.2" cy="478.4" r="4.2" fill="#0000e8" stroke="#111" stroke-width="0.9"/>
<circle cx="612.6" cy="471.9" r="4.2" fill="#0000e8" stroke="#111" stroke-width="0.9"/>
<circle cx="592.6" cy="465.2" r="4.2" fill="#0000e8" stroke="#111" stroke-width="0.9"/>
<circle cx="608.5" cy="485.2" r="4.3" fill="#fff" stroke="#1a2ee8" stroke-width="1.1"/>
<circle cx="588.9" cy="541" r="4.3" fill="#fff" stroke="#222" stroke-width="1.1"/>
</svg>
</body></html>
